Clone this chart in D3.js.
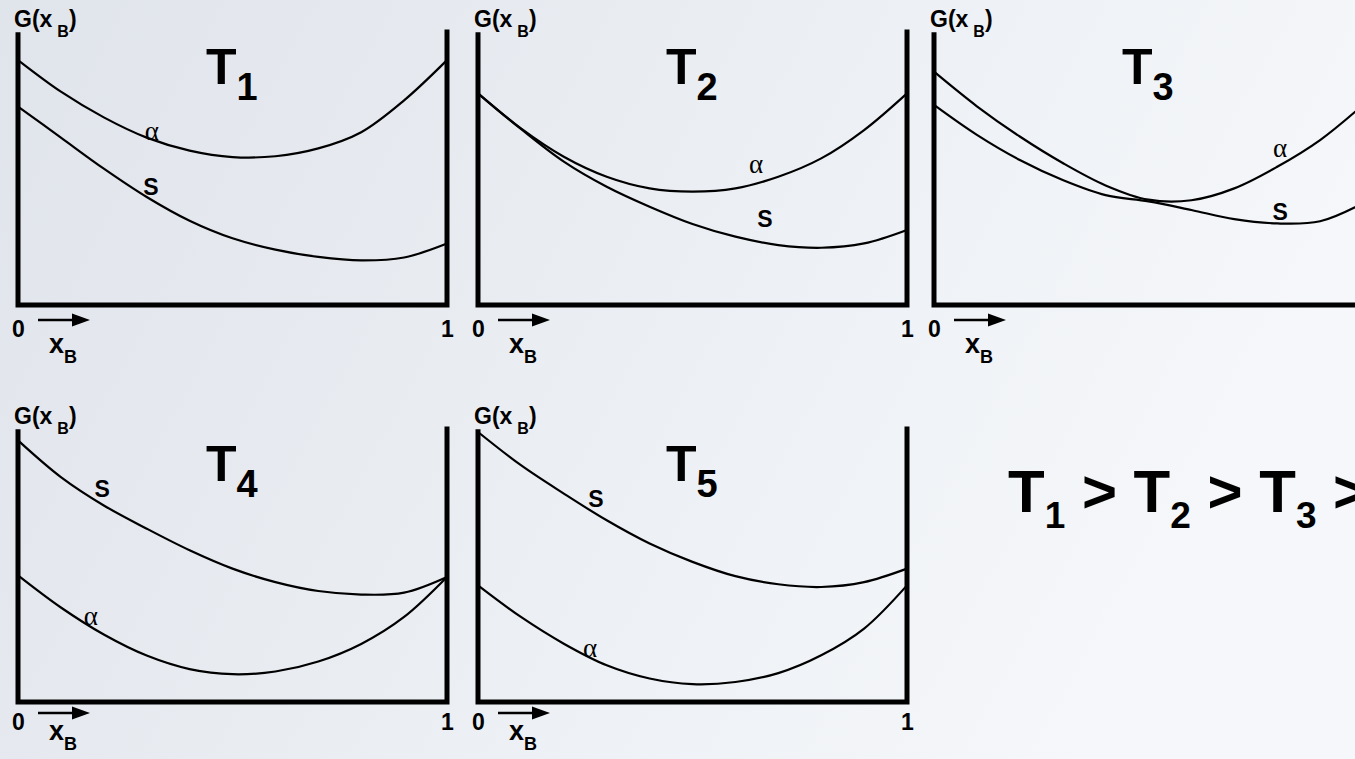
<!DOCTYPE html>
<html>
<head>
<meta charset="utf-8">
<script src="https://cdn.jsdelivr.net/npm/d3@7"></script>
<style>
  html, body { margin: 0; padding: 0; overflow: hidden; }
  svg { display: block; }
</style>
</head>
<body>
<svg id="chart" width="1355" height="759"></svg>
<script>
// Composition x_B sampled across each panel
const xB = [0, 0.1, 0.2, 0.3, 0.4, 0.5, 0.6, 0.7, 0.8, 0.9, 1];

// Free energy curves G(x_B), alpha phase and S phase, at five temperatures
const alphaT1 = [0.907, 0.790, 0.695, 0.620, 0.572, 0.548, 0.551, 0.580, 0.640, 0.758, 0.907];
const solidT1 = [0.735, 0.620, 0.505, 0.400, 0.312, 0.247, 0.205, 0.178, 0.165, 0.176, 0.228];

const alphaT2 = [0.784, 0.654, 0.549, 0.475, 0.432, 0.420, 0.432, 0.475, 0.543, 0.648, 0.784];
const solidT2 = [0.784, 0.652, 0.531, 0.438, 0.364, 0.300, 0.253, 0.222, 0.212, 0.228, 0.278];

const alphaT3 = [0.864, 0.736, 0.624, 0.526, 0.443, 0.390, 0.388, 0.432, 0.512, 0.611, 0.741];
const solidT3 = [0.741, 0.630, 0.537, 0.463, 0.407, 0.384, 0.352, 0.318, 0.302, 0.310, 0.377];

const alphaT4 = [0.469, 0.350, 0.250, 0.172, 0.122, 0.103, 0.113, 0.150, 0.215, 0.315, 0.463];
const solidT4 = [0.969, 0.833, 0.728, 0.642, 0.562, 0.494, 0.444, 0.411, 0.398, 0.405, 0.463];

const alphaT5 = [0.432, 0.315, 0.216, 0.136, 0.087, 0.066, 0.074, 0.107, 0.173, 0.272, 0.432];
const solidT5 = [1.000, 0.877, 0.772, 0.673, 0.587, 0.519, 0.466, 0.436, 0.426, 0.444, 0.494];

// Panel titles (subscript digit) and axis tick labels
const tempLabels = ["1", "2", "3", "4", "5"];
const xTickValues = [0, 1];
const xTickLabels = ["0", "1"];

// Where the phase names sit on each panel, in (x_B, G) units
const alphaLabelAt = [[0.312, 0.611], [0.648, 0.489], [0.807, 0.548], [0.170, 0.285], [0.261, 0.167]];
const solidLabelAt = [[0.310, 0.407], [0.669, 0.289], [0.807, 0.315], [0.196, 0.759], [0.275, 0.722]];

const alphaSeries = [alphaT1, alphaT2, alphaT3, alphaT4, alphaT5];
const solidSeries = [solidT1, solidT2, solidT3, solidT4, solidT5];

// Layout
const panelLeft = [18, 478, 934, 18, 478];
const panelBottom = [305, 305, 305, 702, 702];
const plotW = 429, plotH = 270;
// distance below the composition axis: tick numbers, arrow, x_B name (upper row, lower row)
const belowAxis = [{ tick: 16, arrow: 15, name: 48 }, { tick: 12, arrow: 11, name: 38 }];

const svg = d3.select("#chart");

// Soft slide-style backdrop
const defs = svg.append("defs");
const grad = defs.append("linearGradient").attr("id", "bg").attr("x1", "0").attr("x2", "1").attr("y1", "0").attr("y2", "0.3");
grad.append("stop").attr("offset", "0").attr("stop-color", "#e0e4eb");
grad.append("stop").attr("offset", "0.45").attr("stop-color", "#e9edf2");
grad.append("stop").attr("offset", "1").attr("stop-color", "#f5f7fa");
svg.append("rect").attr("width", 1355).attr("height", 759).attr("fill", "url(#bg)");

const sans = "'Liberation Sans', Arial, Helvetica, sans-serif";
const serif = "'Liberation Serif', 'Times New Roman', serif";

alphaSeries.forEach((alpha, i) => {
  const left = panelLeft[i], bottom = panelBottom[i];
  const below = belowAxis[i < 3 ? 0 : 1];
  const x = d3.scaleLinear().domain([0, 1]).range([left, left + plotW]);
  const y = d3.scaleLinear().domain([0, 1]).range([bottom, bottom - plotH]);
  const g = svg.append("g");

  // Frame: two vertical axes joined by the composition axis
  g.append("path")
    .attr("d", `M${x(0)},${y(1.01)} L${x(0)},${y(0)} L${x(1)},${y(0)} L${x(1)},${y(1.02)}`)
    .attr("fill", "none").attr("stroke", "#000").attr("stroke-width", 5)
    .attr("stroke-linejoin", "miter");

  // 0 and 1 ticks on the composition axis
  const ax = g.append("g").attr("transform", `translate(0,${y(0)})`)
    .call(d3.axisBottom(x).tickValues(xTickValues).tickSize(0).tickPadding(below.tick)
      .tickFormat((d, k) => xTickLabels[k]));
  ax.select(".domain").remove();
  ax.attr("font-size", 23).attr("font-family", sans);
  ax.selectAll("text").attr("font-family", sans).attr("font-size", 23).attr("font-weight", "bold").attr("fill", "#000");

  // Arrow along increasing x_B
  const ay = y(0) + below.arrow;
  g.append("line").attr("x1", x(0) + 20).attr("x2", x(0) + 58).attr("y1", ay).attr("y2", ay)
    .attr("stroke", "#000").attr("stroke-width", 2.5);
  g.append("path").attr("d", `M${x(0) + 54},${ay - 6.5} L${x(0) + 72},${ay} L${x(0) + 54},${ay + 6.5} Z`).attr("fill", "#000");

  // x_B axis name
  const xl = g.append("text").attr("x", x(0) + 31).attr("y", y(0) + below.name)
    .attr("font-family", sans).attr("font-weight", "bold").attr("fill", "#000");
  xl.append("tspan").attr("font-size", 27).text("x");
  xl.append("tspan").attr("font-size", 18).attr("dy", 10).text("B");

  // G(x_B) axis name
  const gl = g.append("text").attr("x", x(0) - 4).attr("y", y(1) - 8)
    .attr("font-family", sans).attr("font-weight", "bold").attr("fill", "#000");
  gl.append("tspan").attr("font-size", 23).text("G(x");
  gl.append("tspan").attr("font-size", 16).attr("dx", 5).attr("dy", 10).text("B");
  gl.append("tspan").attr("font-size", 23).attr("dy", -10).text(")");

  // Temperature title
  const tt = g.append("text").attr("x", x(0) + 188).attr("y", y(0) - 221)
    .attr("font-family", sans).attr("font-weight", "bold").attr("fill", "#000");
  tt.append("tspan").attr("font-size", 50).text("T");
  tt.append("tspan").attr("font-size", 38).attr("dy", 16).text(tempLabels[i]);

  // Free energy curves
  const line = d3.line().x((d, k) => x(xB[k])).y(d => y(d)).curve(d3.curveCatmullRom.alpha(0.5));
  [alpha, solidSeries[i]].forEach(series => {
    g.append("path").datum(series).attr("d", line)
      .attr("fill", "none").attr("stroke", "#000").attr("stroke-width", 2.2);
  });

  // Phase names
  g.append("text").attr("x", x(alphaLabelAt[i][0])).attr("y", y(alphaLabelAt[i][1]))
    .attr("text-anchor", "middle").attr("font-family", serif).attr("font-size", 27)
    .attr("fill", "#000").text("α");
  g.append("text").attr("x", x(solidLabelAt[i][0])).attr("y", y(solidLabelAt[i][1]))
    .attr("text-anchor", "middle").attr("font-family", sans).attr("font-size", 23)
    .attr("font-weight", "bold").attr("fill", "#000").text("S");
});

// Temperature ordering
const order = svg.append("text").attr("x", 1008).attr("y", 512)
  .attr("font-family", sans).attr("font-weight", "bold").attr("fill", "#000");
tempLabels.forEach((t, k) => {
  order.append("tspan").attr("font-size", 60).attr("dy", k === 0 ? 0 : -16).text((k === 0 ? "" : " > ") + "T");
  order.append("tspan").attr("font-size", 37).attr("dy", 16).text(t);
});
</script>
</body>
</html>
